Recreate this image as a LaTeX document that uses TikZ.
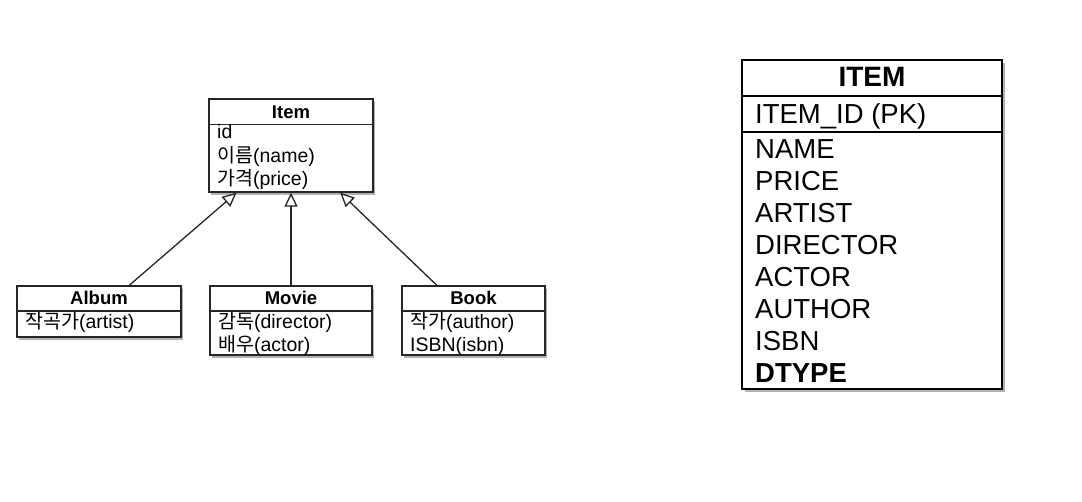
\documentclass[tikz,border=0pt]{standalone}
\usepackage{fontspec}
\setmainfont{Liberation Sans}
\newfontfamily\cjk{Noto Sans CJK KR}
\usetikzlibrary{arrows.meta,shadows}
\tikzset{
  umlbox/.style={draw=black!85, line width=1.4pt, fill=white, rectangle, inner sep=0pt,
    drop shadow={shadow xshift=2pt, shadow yshift=-3pt, opacity=0.3, fill=black}},
  tablebox/.style={draw=black, line width=1.8pt, fill=white, rectangle, inner sep=0pt,
    drop shadow={shadow xshift=2.5pt, shadow yshift=-3.5pt, opacity=0.3, fill=black}},
  sep/.style={draw=black!85, line width=1.3pt},
  tsep/.style={draw=black, line width=1.6pt},
  umltitle/.style={inner sep=0pt, anchor=base, font=\fontsize{18.5}{20}\selectfont\bfseries},
  umlattr/.style={inner sep=0pt, anchor=base west, align=left, font=\fontsize{19.5}{23.5}\selectfont},
  ttitle/.style={inner sep=0pt, anchor=base, font=\fontsize{28}{32}\selectfont\bfseries},
  trow/.style={inner sep=0pt, anchor=base west, font=\fontsize{27.5}{32}\selectfont},
  inh/.style={draw=black!85, line width=1.3pt, -{Triangle[open, length=14pt, width=13pt, fill=white]}}
}
\begin{document}
\begin{tikzpicture}[x=1pt,y=-1pt]
\useasboundingbox[fill=white] (0,0) rectangle (1082,502);

% UML class boxes
\node[umlbox, minimum width=164pt, minimum height=93pt] (item) at (291,145.5) {};
\node[umlbox, minimum width=164pt, minimum height=51pt] (album) at (99,311.5) {};
\node[umlbox, minimum width=162pt, minimum height=69pt] (movie) at (291,320.5) {};
\node[umlbox, minimum width=143pt, minimum height=69pt] (book) at (473.5,320.5) {};

% header separators
\coordinate (itemL) at (209,124.5); \coordinate (itemR) at (373,124.5);
\draw[sep] (itemL) -- (itemR);
\coordinate (albumL) at (17,311); \coordinate (albumR) at (181,311);
\draw[sep] (albumL) -- (albumR);
\coordinate (movieL) at (210,311); \coordinate (movieR) at (372,311);
\draw[sep] (movieL) -- (movieR);
\coordinate (bookL) at (402,311); \coordinate (bookR) at (545,311);
\draw[sep] (bookL) -- (bookR);

% titles
\node[umltitle] (itemT) at (291,118.5) {Item};
\node[umltitle] (albumT) at (99,304.5) {Album};
\node[umltitle] (movieT) at (291,304.5) {Movie};
\node[umltitle] (bookT) at (473.5,304.5) {Book};

% attributes
\node[umlattr] (itemA1) at (217,139) {id};
\node[umlattr] (itemA2) at (217,162.5) {{\cjk 이름}(name)};
\node[umlattr] (itemA3) at (217,186) {{\cjk 가격}(price)};
\node[umlattr] (albumA1) at (25,329) {{\cjk 작곡가}(artist)};
\node[umlattr] (movieA1) at (218,328.5) {{\cjk 감독}(director)};
\node[umlattr] (movieA2) at (218,352) {{\cjk 배우}(actor)};
\node[umlattr] (bookA1) at (410,328.5) {{\cjk 작가}(author)};
\node[umlattr] (bookA2) at (410,352) {ISBN(isbn)};

% inheritance
\draw[inh] (album) -- (item);
\draw[inh] (movie) -- (item);
\draw[inh] (book) -- (item);

% table
\node[tablebox, minimum width=260pt, minimum height=329pt] (table) at (872,224.5) {};
\coordinate (tL1) at (742,96); \coordinate (tR1) at (1002,96);
\draw[tsep] (tL1) -- (tR1);
\coordinate (tL2) at (742,132); \coordinate (tR2) at (1002,132);
\draw[tsep, line width=2.4pt] (tL2) -- (tR2);
\node[ttitle] (tT) at (872,87) {ITEM};
\node[trow] (tPK) at (755,124) {ITEM\_ID (PK)};
\node[trow] (r1) at (755,159) {NAME};
\node[trow] (r2) at (755,191) {PRICE};
\node[trow] (r3) at (755,223) {ARTIST};
\node[trow] (r4) at (755,255) {DIRECTOR};
\node[trow] (r5) at (755,287) {ACTOR};
\node[trow] (r6) at (755,319) {AUTHOR};
\node[trow] (r7) at (755,351) {ISBN};
\node[trow, font=\fontsize{27.5}{32}\selectfont\bfseries] (r8) at (755,383) {DTYPE};
\end{tikzpicture}
\end{document}
